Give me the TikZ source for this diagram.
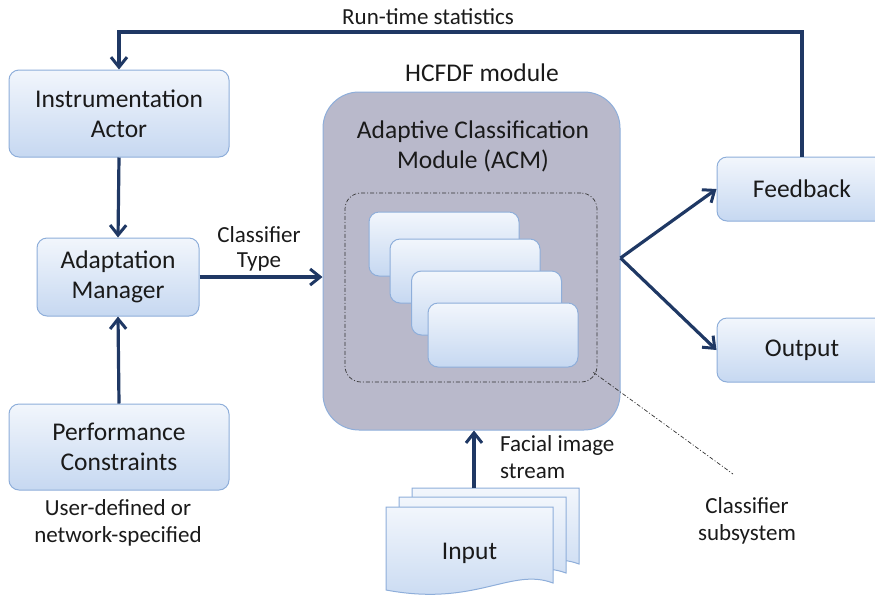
\documentclass[tikz,border=0pt]{standalone}
\usepackage{fontspec}
\setmainfont{Carlito}
\usetikzlibrary{arrows.meta,calc}
\definecolor{flowcol}{HTML}{1F3864}
\definecolor{boxline}{HTML}{8EAEDA}
\definecolor{boxtop}{HTML}{F2F6FC}
\definecolor{boxbot}{HTML}{C6D8F1}
\definecolor{modfill}{HTML}{B9B9CB}
\definecolor{txt}{HTML}{1A1A1A}
\tikzset{
  box/.style={draw=boxline, line width=1pt, rounded corners=10pt,
    top color=boxtop, bottom color=boxbot, align=center,
    font=\fontsize{25.5}{30}\selectfont, text=txt, inner sep=0pt},
  card/.style={box, minimum width=150pt, minimum height=64pt},
  flow/.style={draw=flowcol, line width=3.2pt,
    -{Straight Barb[length=10pt,width=16pt,line width=3pt]}},
  lbl/.style={font=\fontsize{23}{27}\selectfont, text=txt, align=center, inner sep=0pt},
  dashdot/.style={draw=black!80, line width=0.7pt,
    dash pattern=on 4pt off 2pt on 1pt off 2pt},
  docpage/.pic={
    \path[draw=boxline, line width=1pt, top color=boxtop, bottom color=boxbot]
      (0,0) -- (167,0) -- (167,76)
      .. controls (125,60) and (90,100) .. (0,83) -- cycle;
  }
}
\begin{document}
\begin{tikzpicture}[x=1pt,y=-1pt]
\useasboundingbox (0,0) rectangle (875,598);

% left column
\node[box, minimum width=220pt, minimum height=87pt] (ia) at (119,113.5)
  {Instrumentation\\Actor};
\node[box, minimum width=162pt, minimum height=78pt] (am) at (118,277)
  {Adaptation\\Manager};
\node[box, minimum width=220pt, minimum height=86pt] (pc) at (119,447)
  {Performance\\Constraints};
\node[lbl] (ud) at (118,523) {User-defined or\\network-specified};

% HCFDF module
\node[lbl, font=\fontsize{25.5}{30}\selectfont] (hc) at (482,73) {HCFDF module};
\node[draw=boxline, line width=1pt, fill=modfill, rounded corners=36pt,
  minimum width=297pt, minimum height=338pt] (acm) at (471.5,261) {};
\node[lbl, font=\fontsize{25.5}{30}\selectfont] (acmt) at (473,146)
  {Adaptive Classification\\Module (ACM)};
\node[dashdot, rounded corners=16pt, minimum width=252pt, minimum height=189pt]
  (sub) at (471,287.5) {};
\node[card] (c1) at (444,244) {};
\node[card] (c2) at (465,271) {};
\node[card] (c3) at (486.5,303) {};
\node[card] (c4) at (503,335) {};

% outputs
\node[box, minimum width=170pt, minimum height=64pt] (fb) at (802,189) {Feedback};
\node[box, minimum width=170pt, minimum height=64pt] (out) at (802,350) {Output};

% input document stack
\pic at (412,488) {docpage};
\pic at (399,497) {docpage};
\pic at (386,507) {docpage};
\node[lbl, font=\fontsize{25.5}{30}\selectfont, minimum width=167pt, minimum height=10pt]
  (inp) at (469.5,553) {Input};
\coordinate (inptop) at (474,488);

% labels
\node[lbl, font=\fontsize{23}{25}\selectfont] (ct) at (259,249) {Classifier\\Type};
\node[lbl, align=left, anchor=west] (fis) at (500,457) {Facial image\\stream};
\node[lbl] (cs) at (747,521) {Classifier\\subsystem};
\node[lbl] (rts) at (428,17) {Run-time statistics};

% connectors
\draw[flow] (ia.south) -- (am.north);
\draw[flow] (pc.north) -- (am.south);
\draw[flow] (am.east) -- (am.east -| acm.west);
\draw[flow] (inptop) -- (inptop |- acm.south);
\coordinate (split) at ($(acm.east)+(0,-3)$);
\draw[flow] (split) -- (fb.west);
\draw[flow] (split) -- (out.west);
\coordinate (looptop) at (0,32);
\draw[flow] (fb.north) |- (ia.north |- looptop) -- (ia.north);

% leader to the classifier subsystem
\coordinate (leadend) at (733,474);
\draw[dashdot] ($(sub.south east)+(-4,-10)$) -- (leadend);
\end{tikzpicture}
\end{document}
